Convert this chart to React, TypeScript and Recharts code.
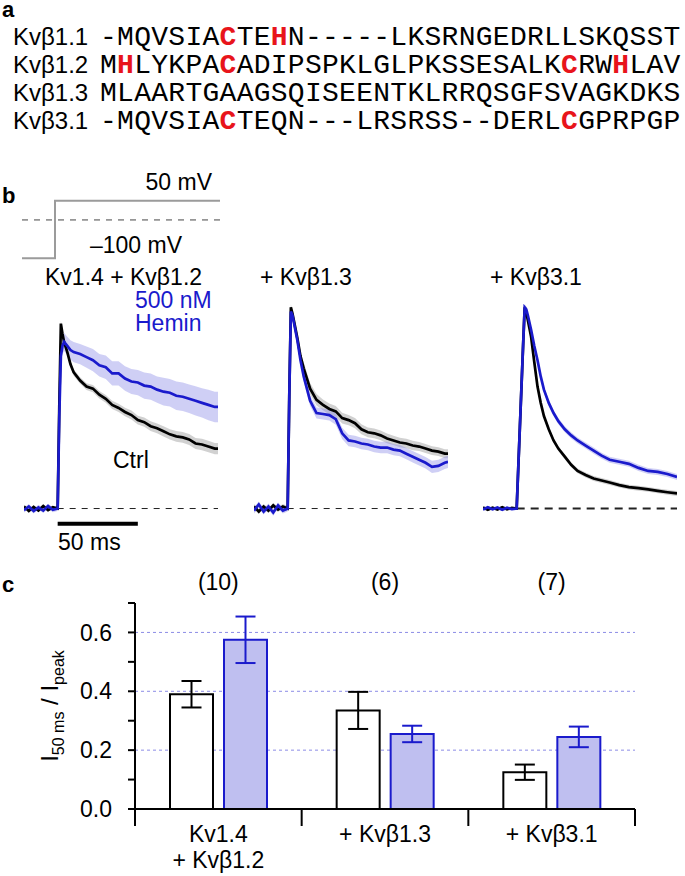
import React from 'react'
import { Area, Bar, BarChart, CartesianGrid, ComposedChart, ErrorBar, Line, LineChart, ReferenceLine, XAxis, YAxis } from 'recharts'

const SANS = '"Liberation Sans", Arial, Helvetica, sans-serif'
const MONO = '"Liberation Mono", "Courier New", monospace'
const BLUE = '#1a1acc'
const RED = '#e8141b'

// panel a: alignment
const SEQ_NAMES = ['Kvβ1.1', 'Kvβ1.2', 'Kvβ1.3', 'Kvβ3.1']
const SEQUENCES = [
  '-MQVSIACTEHN-----LKSRNGEDRLLSKQSST',
  'MHLYKPACADIPSPKLGLPKSSESALKCRWHLAV',
  'MLAARTGAAGSQISEENTKLRRQSGFSVAGKDKS',
  '-MQVSIACTEQN---LRSRSS--DERLCGPRPGP',
]
const RED_SITES = [[7, 10], [1, 7, 27, 30], [], [7, 27]]

// panel b: voltage protocol
const V_TIMES = [-21, 0, 0, 105]
const V_LEVELS = [-100, -100, 50, 50]

// panel b: traces (time in ms, current normalised to the Kvβ1.3 peak)
const T12 = [-21, -18, -15, -12, -9, -6, -3, 0, 1, 2, 3, 4, 6, 8, 10, 14, 18, 22, 26, 30, 34, 38, 42, 46, 50, 54, 58, 62, 66, 70, 74, 78, 82, 86, 90, 94, 98, 100]

const CTRL_B12 = [0.01, -0.012, 0.008, -0.01, 0.012, -0.008, 0.006, 0, 0.5, 0.91, 0.86, 0.82, 0.77, 0.71,
  0.67, 0.63, 0.6, 0.59, 0.56, 0.54, 0.51, 0.495, 0.475, 0.46, 0.435, 0.425, 0.405, 0.395, 0.38, 0.365, 0.355, 0.35, 0.34, 0.32, 0.315, 0.305, 0.295, 0.295]
const CTRL_B12_SEM = [0.008, 0.008, 0.008, 0.008, 0.008, 0.008, 0.008, 0.008, 0.01, 0.015, 0.015, 0.015, 0.015, 0.015,
  0.016, 0.016, 0.017, 0.018, 0.018, 0.019, 0.02, 0.02, 0.021, 0.022, 0.022, 0.023, 0.024, 0.024, 0.025, 0.025, 0.026, 0.026, 0.027, 0.027, 0.028, 0.028, 0.028, 0.028]
const HEMIN_B12 = [-0.008, 0.01, -0.012, 0.006, -0.01, 0.012, -0.006, 0, 0.45, 0.75, 0.8, 0.82, 0.8, 0.78,
  0.77, 0.76, 0.745, 0.73, 0.705, 0.695, 0.665, 0.665, 0.64, 0.625, 0.62, 0.605, 0.6, 0.585, 0.575, 0.57, 0.555, 0.55, 0.54, 0.53, 0.52, 0.51, 0.5, 0.5]
const HEMIN_B12_SEM = [0.012, 0.012, 0.012, 0.012, 0.012, 0.012, 0.012, 0.012, 0.02, 0.03, 0.04, 0.045, 0.045, 0.048,
  0.05, 0.05, 0.052, 0.055, 0.055, 0.058, 0.06, 0.06, 0.06, 0.062, 0.062, 0.065, 0.065, 0.065, 0.068, 0.068, 0.07, 0.07, 0.07, 0.072, 0.072, 0.075, 0.075, 0.075]

const CTRL_B13 = [0.01, -0.015, 0.01, -0.01, 0.015, -0.005, 0.01, 0, 0.55, 0.99, 0.96, 0.92, 0.84, 0.75,
  0.69, 0.59, 0.535, 0.51, 0.49, 0.478, 0.445, 0.435, 0.42, 0.39, 0.375, 0.37, 0.36, 0.345, 0.335, 0.325, 0.32, 0.31, 0.305, 0.295, 0.285, 0.28, 0.27, 0.27]
const CTRL_B13_SEM = [0.012, 0.012, 0.012, 0.012, 0.012, 0.012, 0.012, 0.012, 0.015, 0.015, 0.015, 0.015, 0.015, 0.015,
  0.03, 0.028, 0.028, 0.027, 0.027, 0.026, 0.026, 0.025, 0.025, 0.025, 0.024, 0.024, 0.024, 0.024, 0.023, 0.023, 0.023, 0.023, 0.022, 0.022, 0.022, 0.022, 0.022, 0.022]
const HEMIN_B13 = [-0.01, 0.02, -0.015, 0.01, -0.02, 0.015, -0.01, 0, 0.55, 0.97, 0.95, 0.91, 0.83, 0.73,
  0.65, 0.53, 0.47, 0.465, 0.46, 0.44, 0.37, 0.335, 0.33, 0.32, 0.315, 0.305, 0.3, 0.3, 0.29, 0.285, 0.27, 0.255, 0.24, 0.225, 0.205, 0.21, 0.225, 0.23]
const HEMIN_B13_SEM = [0.015, 0.015, 0.015, 0.015, 0.015, 0.015, 0.015, 0.015, 0.02, 0.02, 0.02, 0.02, 0.02, 0.02,
  0.026, 0.026, 0.027, 0.027, 0.027, 0.028, 0.028, 0.028, 0.028, 0.028, 0.028, 0.028, 0.028, 0.028, 0.028, 0.028, 0.028, 0.028, 0.028, 0.028, 0.03, 0.03, 0.03, 0.03]

const T31 = [-21, -18, -15, -12, -9, -6, -3, 0, 1, 2, 3, 4, 5, 6, 7, 9, 11, 13, 15, 17, 20, 23, 26, 30, 34, 38, 43, 48, 53, 58, 64, 70, 76, 82, 88, 94, 100]
const CTRL_B31 = [0.005, -0.006, 0.004, -0.005, 0.006, -0.004, 0.003, 0, 0.2, 0.4, 0.6, 0.8, 0.99, 0.965, 0.925,
  0.845, 0.72, 0.6, 0.52, 0.455, 0.39, 0.335, 0.295, 0.255, 0.215, 0.185, 0.165, 0.148, 0.138, 0.128, 0.115, 0.105, 0.1, 0.094, 0.087, 0.08, 0.074]
const CTRL_B31_SEM = [0.005, 0.005, 0.005, 0.005, 0.005, 0.005, 0.005, 0.005, 0.008, 0.01, 0.01, 0.012, 0.012, 0.012, 0.012,
  0.012, 0.012, 0.012, 0.012, 0.012, 0.012, 0.012, 0.012, 0.012, 0.012, 0.012, 0.012, 0.012, 0.012, 0.012, 0.012, 0.012, 0.012, 0.012, 0.012, 0.012, 0.012]
const HEMIN_B31 = [-0.005, 0.006, -0.004, 0.005, -0.006, 0.004, -0.003, 0, 0.2, 0.4, 0.6, 0.8, 0.99, 0.98, 0.95,
  0.88, 0.8, 0.73, 0.65, 0.585, 0.52, 0.47, 0.43, 0.39, 0.36, 0.335, 0.31, 0.285, 0.26, 0.24, 0.23, 0.22, 0.2, 0.185, 0.18, 0.17, 0.155]
const HEMIN_B31_SEM = [0.005, 0.005, 0.005, 0.005, 0.005, 0.005, 0.005, 0.005, 0.008, 0.01, 0.012, 0.015, 0.015, 0.015, 0.015,
  0.015, 0.015, 0.015, 0.015, 0.015, 0.015, 0.015, 0.015, 0.015, 0.015, 0.015, 0.015, 0.015, 0.015, 0.015, 0.015, 0.015, 0.015, 0.015, 0.015, 0.015, 0.015]

// panel c: I50ms / Ipeak
const GROUPS = ['Kv1.4 + Kvβ1.2', '+ Kvβ1.3', '+ Kvβ3.1']
const GROUP_LINES = [['Kv1.4', '+ Kvβ1.2'], ['+ Kvβ1.3'], ['+ Kvβ3.1']]
const N_CELLS = ['(10)', '(6)', '(7)']
const RATIO_CTRL = [0.39, 0.335, 0.125]
const RATIO_CTRL_SEM = [0.045, 0.063, 0.026]
const RATIO_HEMIN = [0.575, 0.255, 0.245]
const RATIO_HEMIN_SEM = [0.079, 0.028, 0.035]
const Y_TICKS = [0, 0.1, 0.2, 0.3, 0.4, 0.5, 0.6, 0.7]
const GRID_VALUES = [0.2, 0.4, 0.6]

const barData = GROUPS.map((group, i) => ({
  group,
  n: N_CELLS[i],
  ctrl: RATIO_CTRL[i],
  ctrlErr: RATIO_CTRL_SEM[i],
  hemin: RATIO_HEMIN[i],
  heminErr: RATIO_HEMIN_SEM[i],
}))

function Alignment() {
  return (
    <svg width={685} height={140} style={{ position: 'absolute', left: 0, top: 0 }}>
      <text x={2} y={17} fontFamily={SANS} fontWeight="bold" fontSize={22}>a</text>
      {SEQUENCES.map((seq, r) => (
        <g key={r}>
          <text x={13} y={45 + r * 28} fontFamily={SANS} fontSize={24}>{SEQ_NAMES[r]}</text>
          <text x={100} y={45 + r * 28} fontFamily={MONO} fontSize={28} letterSpacing={0.26}>
            {seq.split('').map((c, i) =>
              RED_SITES[r].includes(i)
                ? <tspan key={i} fill={RED} fontWeight="bold">{c}</tspan>
                : <tspan key={i}>{c}</tspan>,
            )}
          </text>
        </g>
      ))}
    </svg>
  )
}

function Protocol() {
  const data = V_TIMES.map((t, i) => ({ t, v: V_LEVELS[i] }))
  return (
    <div style={{ position: 'absolute', left: 22, top: 197 }}>
      <LineChart width={198} height={65} data={data} margin={{ top: 0, right: 0, bottom: 0, left: 0 }}>
        <XAxis type="number" dataKey="t" domain={[-21, 105]} hide />
        <YAxis type="number" domain={[-110, 60]} hide />
        <ReferenceLine y={0} stroke="#444" strokeDasharray="6 6" />
        <Line type="linear" dataKey="v" stroke="#9b9b9b" strokeWidth={2} dot={false} isAnimationActive={false} />
      </LineChart>
    </div>
  )
}

interface TraceProps {
  left: number
  times: number[]
  ctrl: number[]
  ctrlSem: number[]
  hemin: number[]
  heminSem: number[]
  dashWidth?: number
  scaleBar?: boolean
}

function TracePanel({ left, times, ctrl, ctrlSem, hemin, heminSem, dashWidth = 1, scaleBar = false }: TraceProps) {
  const data = times.map((t, i) => ({
    t,
    ctrl: ctrl[i],
    hemin: hemin[i],
    ctrlBand: [ctrl[i] - ctrlSem[i], ctrl[i] + ctrlSem[i]],
    heminBand: [hemin[i] - heminSem[i], hemin[i] + heminSem[i]],
  }))
  return (
    <div style={{ position: 'absolute', left, top: 285 }}>
      <ComposedChart width={194} height={254} data={data} margin={{ top: 0, right: 0, bottom: 0, left: 0 }}>
        <XAxis type="number" dataKey="t" domain={[-21, 100]} hide />
        <YAxis type="number" domain={[-0.15, 1.1]} hide />
        <ReferenceLine
          segment={[{ x: 0, y: 0 }, { x: 100, y: 0 }]}
          stroke="#222"
          strokeWidth={dashWidth}
          strokeDasharray={dashWidth > 1 ? '8 6' : '6 6'}
        />
        <Area type="linear" dataKey="ctrlBand" stroke="none" fill="#9a9a9a" fillOpacity={0.45} isAnimationActive={false} />
        <Area type="linear" dataKey="heminBand" stroke="none" fill="#8c8ce8" fillOpacity={0.42} isAnimationActive={false} />
        <Line type="linear" dataKey="ctrl" stroke="#000" strokeWidth={2.7} dot={false} isAnimationActive={false} />
        <Line type="linear" dataKey="hemin" stroke={BLUE} strokeWidth={2.7} dot={false} isAnimationActive={false} />
        {scaleBar && (
          <ReferenceLine segment={[{ x: 0, y: -0.075 }, { x: 50, y: -0.075 }]} stroke="#000" strokeWidth={4} />
        )}
      </ComposedChart>
    </div>
  )
}

function GroupTick(props: any) {
  const { x, y, payload, index } = props
  const half = payload && payload.offset ? payload.offset : 500 / 6
  return (
    <g>
      <line x1={x - half} x2={x - half} y1={y} y2={y + 17} stroke="#000" strokeWidth={2} />
      {index === GROUPS.length - 1 && (
        <line x1={x + half} x2={x + half} y1={y} y2={y + 17} stroke="#000" strokeWidth={2} />
      )}
      {GROUP_LINES[index].map((s, k) => (
        <text key={k} x={x} y={y + 33 + k * 26} textAnchor="middle" fontFamily={SANS} fontSize={23} fill="#000">{s}</text>
      ))}
    </g>
  )
}

function RatioBars() {
  return (
    <div style={{ position: 'absolute', left: 0, top: 570 }}>
      <BarChart width={685} height={306} data={barData} margin={{ top: 3, right: 50, bottom: 7, left: 75 }} barSize={43} barGap={11}>
        <CartesianGrid vertical={false} horizontalValues={GRID_VALUES} stroke="#8c8ce6" strokeDasharray="3 3" />
        <XAxis
          dataKey="group"
          axisLine={{ stroke: '#000', strokeWidth: 2 }}
          tickLine={false}
          tickSize={0}
          tickMargin={0}
          height={60}
          interval={0}
          tick={<GroupTick />}
        />
        <XAxis
          xAxisId="n"
          orientation="top"
          dataKey="n"
          axisLine={false}
          tickLine={false}
          tickSize={0}
          tickMargin={13}
          height={30}
          interval={0}
          tick={{ fill: '#000', fontSize: 23, fontFamily: SANS }}
        />
        <YAxis
          type="number"
          domain={[0, 0.7]}
          ticks={Y_TICKS}
          interval={0}
          width={60}
          tickSize={7}
          tickMargin={16}
          axisLine={{ stroke: '#000', strokeWidth: 2 }}
          tickLine={{ stroke: '#000', strokeWidth: 2 }}
          tick={{ fill: '#000', fontSize: 23, fontFamily: SANS }}
          tickFormatter={(v: number) => (Math.round(v * 10) % 2 === 0 && v < 0.65 ? v.toFixed(1) : '')}
        />
        <Bar dataKey="ctrl" fill="#fff" stroke="#000" strokeWidth={2} isAnimationActive={false}>
          <ErrorBar dataKey="ctrlErr" width={10} stroke="#000" strokeWidth={2} />
        </Bar>
        <Bar dataKey="hemin" fill="#bfbff0" stroke={BLUE} strokeWidth={2} isAnimationActive={false}>
          <ErrorBar dataKey="heminErr" width={10} stroke={BLUE} strokeWidth={2} />
        </Bar>
      </BarChart>
    </div>
  )
}

function Labels() {
  const t = { fontFamily: SANS, fontSize: 23, fill: '#000' }
  return (
    <svg width={685} height={876} style={{ position: 'absolute', left: 0, top: 0, pointerEvents: 'none' }}>
      <text x={2} y={203} fontFamily={SANS} fontWeight="bold" fontSize={22}>b</text>
      <text x={212} y={190} textAnchor="end" {...t}>50 mV</text>
      <text x={90} y={253} {...t}>–100 mV</text>
      <text x={45} y={285} {...t}>Kv1.4 + Kvβ1.2</text>
      <text x={135} y={308} {...t} fill={BLUE}>500 nM</text>
      <text x={135} y={331} {...t} fill={BLUE}>Hemin</text>
      <text x={260} y={285} {...t}>+ Kvβ1.3</text>
      <text x={490} y={285} {...t}>+ Kvβ3.1</text>
      <text x={113} y={468} {...t}>Ctrl</text>
      <text x={58} y={550} {...t}>50 ms</text>
      <text x={2} y={592} fontFamily={SANS} fontWeight="bold" fontSize={22}>c</text>
      <text x={58} y={706} transform="rotate(-90 58 706)" textAnchor="middle" {...t} fontSize={24}>
        I<tspan fontSize={16} dy={6}>50 ms</tspan>
        <tspan dy={-6}> / I</tspan>
        <tspan fontSize={16} dy={6}>peak</tspan>
      </text>
    </svg>
  )
}

export default function App() {
  return (
    <div style={{ position: 'absolute', left: 0, top: 0, width: 685, height: 876, background: '#fff', overflow: 'hidden' }}>
      <Alignment />
      <Protocol />
      <TracePanel left={24} times={T12} ctrl={CTRL_B12} ctrlSem={CTRL_B12_SEM} hemin={HEMIN_B12} heminSem={HEMIN_B12_SEM} scaleBar />
      <TracePanel left={254} times={T12} ctrl={CTRL_B13} ctrlSem={CTRL_B13_SEM} hemin={HEMIN_B13} heminSem={HEMIN_B13_SEM} />
      <TracePanel left={483} times={T31} ctrl={CTRL_B31} ctrlSem={CTRL_B31_SEM} hemin={HEMIN_B31} heminSem={HEMIN_B31_SEM} dashWidth={2} />
      <RatioBars />
      <Labels />
    </div>
  )
}
